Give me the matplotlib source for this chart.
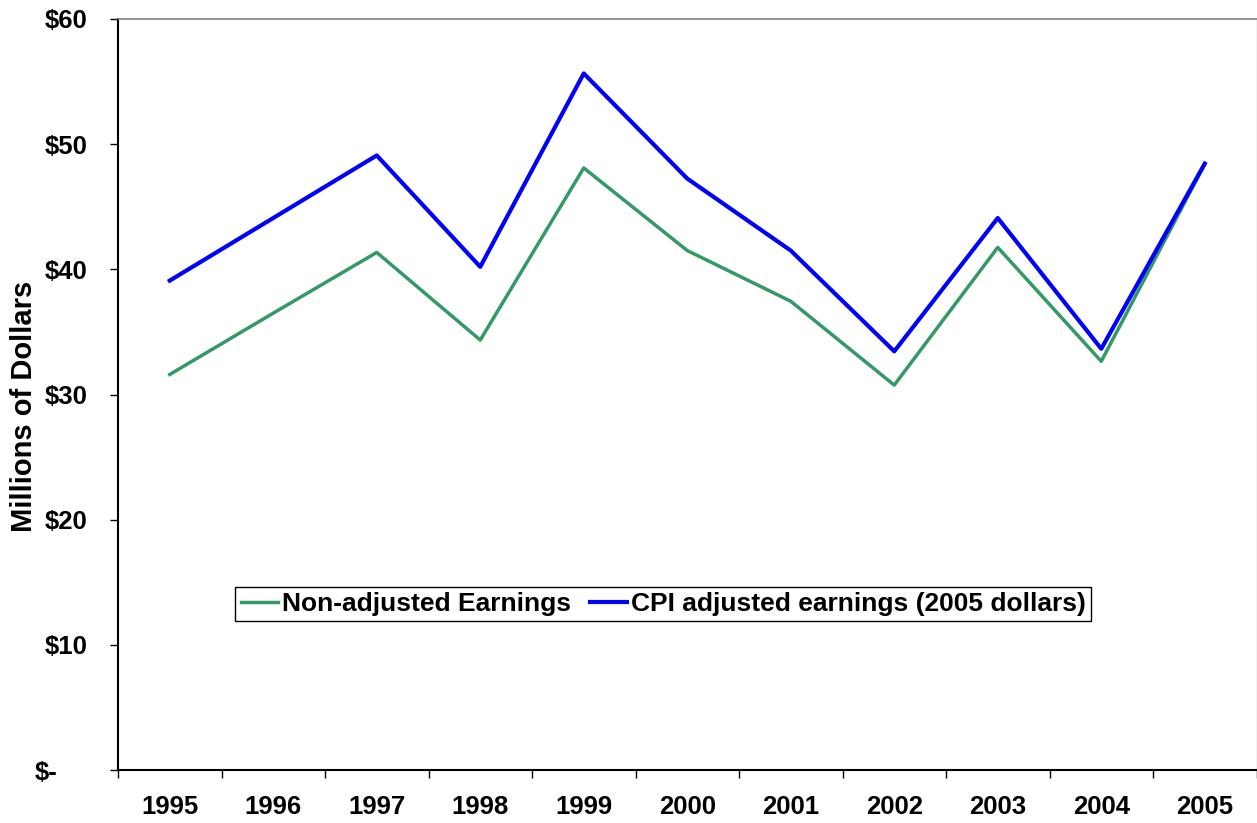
import matplotlib
matplotlib.use("Agg")
import matplotlib.pyplot as plt
from matplotlib.transforms import ScaledTranslation

years = ["1995", "1996", "1997", "1998", "1999", "2000",
         "2001", "2002", "2003", "2004", "2005"]
non_adjusted = [31.6, 36.5, 41.35, 34.35, 48.1, 41.5, 37.45, 30.75, 41.75, 32.65, 48.4]
cpi_adjusted = [39.1, 44.1, 49.1, 40.2, 55.65, 47.25, 41.5, 33.45, 44.1, 33.65, 48.45]

y_ticks = [0, 10, 20, 30, 40, 50, 60]
y_tick_labels = ["$-", "$10", "$20", "$30", "$40", "$50", "$60"]

plt.rcParams["font.family"] = ["Liberation Sans", "DejaVu Sans"]
plt.rcParams["font.weight"] = "bold"
plt.rcParams["axes.labelweight"] = "bold"

W, H = 1257, 823
fig = plt.figure(figsize=(W / 100, H / 100), dpi=100)
ax = fig.add_axes([118 / W, 53 / H, 1138.5 / W, 751 / H])

x = list(range(len(years)))
ax.plot(x, non_adjusted, color="#339966", lw=2.5, label="Non-adjusted Earnings")
ax.plot(x, cpi_adjusted, color="#0000ff", lw=3.0,
        label="CPI adjusted earnings (2005 dollars)")

ax.set_xlim(-0.5, len(years) - 0.5)
ax.set_ylim(0, 60)

# category boundaries get the tick marks, labels sit in the middle
ax.set_xticks([i - 0.5 for i in range(len(years) + 1)])
ax.set_xticklabels([])
ax.set_xticks(x, minor=True)
ax.set_xticklabels(years, minor=True)
ax.tick_params(axis="x", which="major", direction="out", length=5.8, width=1)
ax.tick_params(axis="x", which="minor", length=0, pad=18, labelsize=18.5)

ax.set_yticks(y_ticks)
ax.set_yticklabels(y_tick_labels)
ax.tick_params(axis="y", direction="out", length=5.8, width=1, pad=16, labelsize=18.5)

# accounting format: "$-" sits left of the other labels
zero_lab = ax.get_yticklabels()[0]
zero_lab.set_transform(zero_lab.get_transform() +
                       ScaledTranslation(-0.30, 0, fig.dpi_scale_trans))

ax.set_ylabel("Millions of Dollars", fontsize=21, fontweight="bold")
ax.yaxis.set_label_coords(-0.07, 0.484)

for side in ["left", "bottom"]:
    ax.spines[side].set_color("black")
    ax.spines[side].set_linewidth(1.5)
ax.spines["top"].set_color("#808080")
ax.spines["top"].set_linewidth(1.2)
ax.spines["right"].set_color("#c0c0c0")
ax.spines["right"].set_linewidth(1)

leg = ax.legend(loc="center", bbox_to_anchor=(0.479, 0.221), ncol=2, fontsize=19,
                fancybox=False, edgecolor="black", framealpha=1,
                handlelength=1.4, handletextpad=0.15, columnspacing=0.75,
                borderpad=0.2)
leg.get_frame().set_linewidth(1)

fig.savefig("out.png", dpi=100)
